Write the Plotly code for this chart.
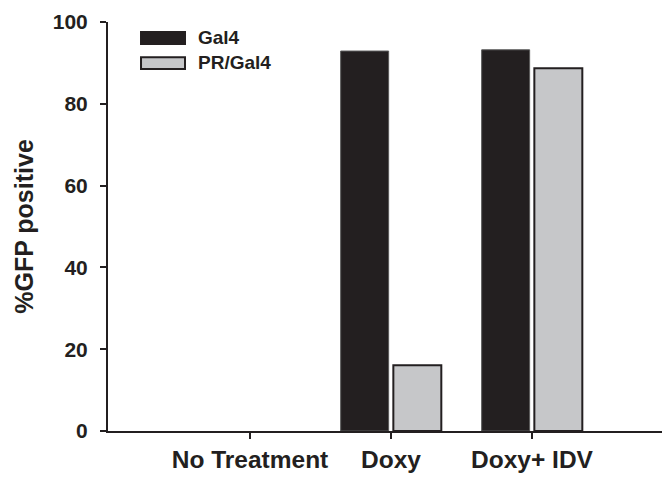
import plotly.graph_objects as go

# Percentage of GFP-positive cells per treatment
treatments = ["No Treatment", "Doxy", "Doxy+ IDV"]
gal4 = [0.0, 92.9, 93.2]
pr_gal4 = [0.0, 16.1, 88.7]
series_names = ["Gal4", "PR/Gal4"]
y_ticks = [0, 20, 40, 60, 80, 100]

INK = "#231f20"
GREY = "#c6c7c9"
FONT = "Liberation Sans, Arial, sans-serif"

x_pos = list(range(len(treatments)))
# no outline on empty bars
edge_w_dark = [0 if v == 0 else 1 for v in gal4]
edge_w_grey = [0 if v == 0 else 2 for v in pr_gal4]

fig = go.Figure()
fig.add_trace(go.Bar(
    x=x_pos, y=gal4, name=series_names[0],
    marker=dict(color=INK, line=dict(color="#5a5a5a", width=edge_w_dark)),
    showlegend=False,
))
fig.add_trace(go.Bar(
    x=x_pos, y=pr_gal4, name=series_names[1],
    marker=dict(color=GREY, line=dict(color=INK, width=edge_w_grey)),
    showlegend=False,
))

# Hand-built legend with wide swatches
swatches = [(INK, INK, 0.9756, 0.946, 0.961),
            (GREY, INK, 0.914, 0.885, 0.900)]
for (fill, edge, y1, y0, ym), label in zip(swatches, series_names):
    fig.add_shape(type="rect", xref="paper", yref="paper",
                  x0=0.0596, x1=0.139, y0=y0, y1=y1,
                  fillcolor=fill, line=dict(color=edge, width=2))
    fig.add_annotation(xref="paper", yref="paper", x=0.159, y=ym,
                       text=f"<b>{label}</b>", showarrow=False,
                       xanchor="left", yanchor="middle",
                       font=dict(family=FONT, size=19, color=INK))

fig.update_layout(
    width=662, height=477,
    margin=dict(l=108, r=0, t=22, b=46),
    paper_bgcolor="white", plot_bgcolor="white",
    barmode="group", bargap=0.253, bargroupgap=0.089,
    font=dict(family=FONT, color=INK),
)
fig.update_xaxes(
    range=[-1.007, 2.922],
    tickvals=x_pos, ticktext=[f"<b>{t}</b>" for t in treatments],
    showline=True, linecolor=INK, linewidth=2,
    ticks="outside", ticklen=6, tickwidth=2, tickcolor=INK,
    tickfont=dict(family=FONT, size=24.5, color=INK),
    showgrid=False, zeroline=False,
)
fig.update_yaxes(
    range=[0, 100], tickvals=y_ticks,
    ticktext=[f"<b>{v}</b>" for v in y_ticks],
    ticklabelstandoff=8,
    showline=True, linecolor=INK, linewidth=2,
    ticks="outside", ticklen=6, tickwidth=2, tickcolor=INK,
    tickfont=dict(family=FONT, size=21, color=INK),
    title=dict(text="<b>%GFP positive</b>", standoff=12,
               font=dict(family=FONT, size=25, color=INK)),
    showgrid=False, zeroline=False,
)

fig.write_html("out.html")
